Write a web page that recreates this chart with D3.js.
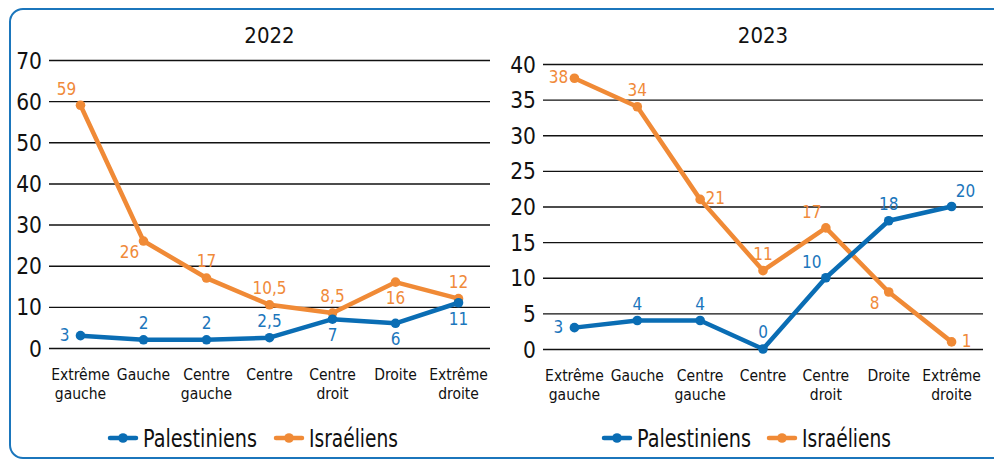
<!DOCTYPE html>
<html><head><meta charset="utf-8">
<script src="https://cdn.jsdelivr.net/npm/d3@7"></script>
<style>
html,body{margin:0;padding:0;background:#fff;}
text{font-family:"DejaVu Sans Condensed","Liberation Sans Narrow",sans-serif;}
</style></head><body>
<svg id="c" width="994" height="460"></svg>
<script>
const categories = [["Extrême","gauche"],["Gauche"],["Centre","gauche"],["Centre"],["Centre","droit"],["Droite"],["Extrême","droite"]];
const years = ["2022","2023"];
const seriesNames = ["Palestiniens","Israéliens"];
const pal2022 = [3,2,2,2.5,7,6,11];
const isr2022 = [59,26,17,10.5,8.5,16,12];
const pal2023 = [3,4,4,0,10,18,20];
const isr2023 = [38,34,21,11,17,8,1];
const ticks2022 = [0,10,20,30,40,50,60,70];
const ticks2023 = [0,5,10,15,20,25,30,35,40];
// label placement per point (style)
const place2022 = {pal:["l","a","a","a","b","b","b"], isr:["al","bl","a","a","a","b","a"]};
const place2023 = {pal:["l","a","a","a","al","a","ar"], isr:["l","a","r","a","al","bl","r"]};

const BLUE="#0a6db4", ORANGE="#f08a36", BLUE_T="#1b76bc", ORANGE_T="#f08a3a";
const svg=d3.select("#c");
svg.append("rect").attr("x",10).attr("y",9).attr("width",1010).attr("height",449).attr("rx",13)
  .attr("fill","none").attr("stroke","#1b76bc").attr("stroke-width",2);

const fmt = v => String(v).replace(".",",");
const legendLen=[114,89];

function panel(cfg){
  const g=svg.append("g");
  const x=d3.scaleBand().domain(d3.range(categories.length)).range([cfg.x0,cfg.x1]);
  const y=d3.scaleLinear().domain([0,cfg.max]).range([cfg.yb,cfg.yt]);
  g.append("text").attr("x",(cfg.x0+cfg.x1)/2).attr("y",43).attr("text-anchor","middle")
    .attr("font-size",22).attr("fill","#111").text(cfg.title);
  const ya=g.append("g").attr("transform",`translate(${cfg.x0},0)`)
    .call(d3.axisLeft(y).tickValues(cfg.ticks).tickSize(-(cfg.x1-cfg.x0)).tickPadding(7));
  ya.select(".domain").remove();
  ya.selectAll("line").attr("stroke","#111").attr("stroke-width",1.4);
  ya.selectAll("text").attr("font-size",22.5).attr("fill","#111").attr("dy","0.36em")
    .style("font-family",'"DejaVu Sans Condensed","Liberation Sans Narrow",sans-serif');
  const xa=g.append("g").attr("transform",`translate(0,${cfg.yb})`)
    .call(d3.axisBottom(x).tickSize(0).tickFormat(""));
  xa.select(".domain").remove();
  xa.selectAll(".tick").each(function(d){
    const t=d3.select(this).append("text").attr("text-anchor","middle").attr("font-size",15.5).attr("fill","#111");
    categories[d].forEach((s,i)=>t.append("tspan").attr("x",0).attr("y",32+i*19).text(s));
  });
  const cx=i=>x(i)+x.bandwidth()/2;
  const line=d3.line().x((d,i)=>cx(i)).y(d=>y(d));
  const series=[{v:cfg.isr,c:ORANGE,tc:ORANGE_T,p:cfg.place.isr},{v:cfg.pal,c:BLUE,tc:BLUE_T,p:cfg.place.pal}];
  series.forEach(s=>{
    g.append("path").datum(s.v).attr("d",line).attr("fill","none").attr("stroke",s.c)
      .attr("stroke-width",4.5).attr("stroke-linejoin","round");
    g.selectAll(null).data(s.v).enter().append("circle").attr("cx",(d,i)=>cx(i)).attr("cy",d=>y(d))
      .attr("r",4.8).attr("fill",s.c);
  });
  series.forEach(s=>{
    const off={l:[-16,5],a:[0,-11],b:[0,22],r:[15,5],al:[-14,-10],ar:[14,-10],bl:[-14,17]};
    g.selectAll(null).data(s.v).enter().append("text")
      .attr("x",(d,i)=>cx(i)+off[s.p[i]][0]).attr("y",(d,i)=>y(d)+off[s.p[i]][1])
      .attr("text-anchor","middle").attr("font-size",17).attr("fill",s.tc).text(d=>fmt(d));
  });
  const lg=g.append("g").attr("transform",`translate(${cfg.lx},438)`);
  [BLUE,ORANGE].forEach((c,i)=>{
    const ox=i*cfg.lgap;
    lg.append("line").attr("x1",ox).attr("x2",ox+26).attr("y1",0).attr("y2",0).attr("stroke",c)
      .attr("stroke-width",4.5).attr("stroke-linecap","round");
    lg.append("circle").attr("cx",ox+13).attr("cy",0).attr("r",4.8).attr("fill",c);
    lg.append("text").attr("x",ox+33).attr("y",9).attr("font-size",25).attr("fill","#111")
      .attr("textLength",legendLen[i]).attr("lengthAdjust","spacingAndGlyphs").text(seriesNames[i]);
  });
}
panel({title:years[0],x0:49,x1:490,yt:60,yb:348,max:70,ticks:ticks2022,pal:pal2022,isr:isr2022,place:place2022,lx:110,lgap:166});
panel({title:years[1],x0:543,x1:983,yt:64,yb:349,max:40,ticks:ticks2023,pal:pal2023,isr:isr2023,place:place2023,lx:604,lgap:165});
</script></body></html>
